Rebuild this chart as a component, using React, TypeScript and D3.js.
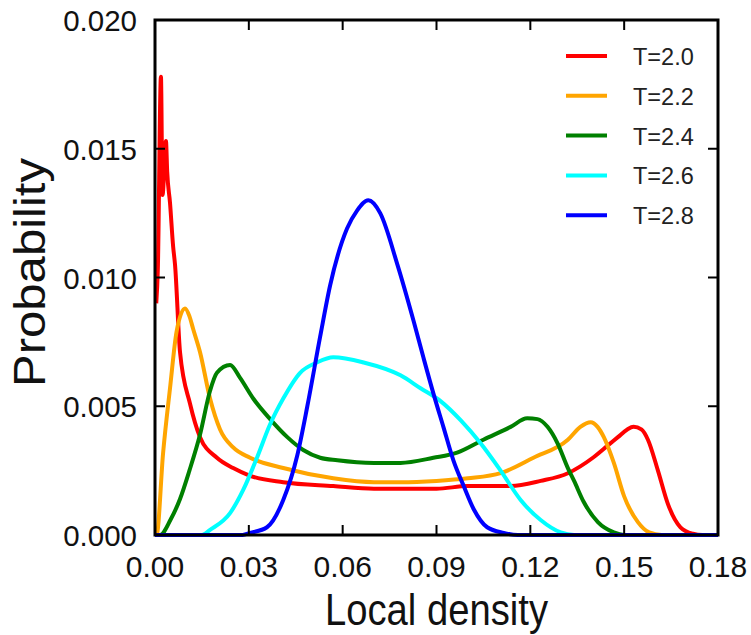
import React from "react";
import * as d3 from "d3";

type Pt = [number, number];

const seriesNames = ["T=2.0", "T=2.2", "T=2.4", "T=2.6", "T=2.8"];
const seriesColors = ["#ff0000", "#ffa500", "#008000", "#00ffff", "#0000ff"];

const red: Pt[] = [
  [0.0004, 0.009], [0.0009, 0.0103], [0.0019, 0.0178], [0.0024, 0.0132],
  [0.0035, 0.0153], [0.0039, 0.0141], [0.0048, 0.0129], [0.0058, 0.0112],
  [0.0064, 0.0105], [0.008, 0.0071], [0.0112, 0.0051], [0.0144, 0.0038],
  [0.0198, 0.003], [0.025, 0.0026], [0.0304, 0.0023], [0.041, 0.00205],
  [0.057, 0.0019], [0.07, 0.0018], [0.0785, 0.0018], [0.09, 0.0018],
  [0.1, 0.0019], [0.1137, 0.0019], [0.1233, 0.0021], [0.132, 0.0024],
  [0.14, 0.003], [0.145, 0.0035], [0.148, 0.0038], [0.151, 0.0041],
  [0.153, 0.0042], [0.1555, 0.0041], [0.1576, 0.0037], [0.1608, 0.0025],
  [0.164, 0.0012], [0.168, 0.0003], [0.172, 0.00005], [0.175, 0], [0.18, 0],
];

const orange: Pt[] = [
  [0, 0], [0.0005, 0], [0.0026, 0.0032], [0.0048, 0.0057], [0.0069, 0.0079],
  [0.0096, 0.0088], [0.011, 0.0085], [0.0122, 0.008], [0.0144, 0.0071],
  [0.0176, 0.0053], [0.0208, 0.0041], [0.025, 0.0034], [0.0304, 0.003],
  [0.041, 0.0026], [0.057, 0.0022], [0.07, 0.00205], [0.0785, 0.00205],
  [0.09, 0.0021], [0.1, 0.0022], [0.1105, 0.0024], [0.121, 0.003],
  [0.132, 0.0037], [0.136, 0.0042], [0.1393, 0.00438], [0.1415, 0.0042],
  [0.1435, 0.0038], [0.1467, 0.0028], [0.15, 0.0015], [0.1544, 0.0005],
  [0.158, 0.0001], [0.162, 0], [0.18, 0],
];

const green: Pt[] = [
  [0, 0], [0.0016, 0], [0.005, 0.0006], [0.008, 0.0014], [0.011, 0.0025],
  [0.0144, 0.0039], [0.0176, 0.0056], [0.0198, 0.0063], [0.024, 0.0066],
  [0.0272, 0.0061], [0.0314, 0.0053], [0.0368, 0.0045], [0.0423, 0.0038],
  [0.0474, 0.0033], [0.0528, 0.003], [0.0583, 0.0029], [0.07, 0.0028],
  [0.0785, 0.0028], [0.089, 0.003], [0.0966, 0.0032], [0.105, 0.0037],
  [0.1137, 0.0042], [0.119, 0.00453], [0.1223, 0.0045], [0.1255, 0.0042],
  [0.1287, 0.00356], [0.132, 0.0026], [0.134, 0.0021], [0.137, 0.0013],
  [0.1416, 0.0005], [0.1467, 0.0001], [0.15, 0], [0.18, 0],
];

const cyan: Pt[] = [
  [0, 0], [0.015, 0], [0.0176, 0.0002], [0.024, 0.00085], [0.0282, 0.00175],
  [0.0326, 0.003], [0.0368, 0.0043], [0.041, 0.0053], [0.0464, 0.0063],
  [0.0518, 0.0067], [0.057, 0.0069], [0.0667, 0.0067], [0.0785, 0.0062],
  [0.0849, 0.0057], [0.0913, 0.0052], [0.0977, 0.00446], [0.1041, 0.00356],
  [0.1105, 0.0025], [0.1169, 0.00136], [0.1233, 0.00058], [0.1297, 0.0001],
  [0.134, 0], [0.18, 0],
];

const blue: Pt[] = [
  [0, 0], [0.028, 0], [0.0304, 0.00008], [0.0358, 0.0003], [0.041, 0.00136],
  [0.0455, 0.0031], [0.0487, 0.005], [0.0528, 0.0077], [0.056, 0.0097],
  [0.0614, 0.0119], [0.0646, 0.0126], [0.0682, 0.013], [0.072, 0.0125],
  [0.0775, 0.0105], [0.0827, 0.0083], [0.0858, 0.0069], [0.089, 0.0055],
  [0.0922, 0.0042], [0.0954, 0.0029], [0.0987, 0.0019], [0.1019, 0.001],
  [0.1062, 0.0003], [0.1115, 0.00008], [0.116, 0], [0.18, 0],
];

const seriesData = [red, orange, green, cyan, blue];

const xTicks = [0, 0.03, 0.06, 0.09, 0.12, 0.15, 0.18];
const yTicks = [0, 0.005, 0.01, 0.015, 0.02];

const W = 751;
const H = 635;
const L = 155;
const R = 718;
const T = 20;
const B = 535;

export default function App() {
  const x = d3.scaleLinear().domain([0, 0.18]).range([L, R]);
  const y = d3.scaleLinear().domain([0, 0.02]).range([B, T]);
  const line = d3
    .line<Pt>()
    .x((d) => x(d[0]))
    .y((d) => y(d[1]))
    .curve(d3.curveMonotoneX);
  const font = "'Liberation Sans', Arial, sans-serif";
  const tickLen = 10;

  return (
    <svg
      width={W}
      height={H}
      style={{ position: "absolute", left: 0, top: 0, background: "#fff" }}
      fontFamily={font}
    >
      <rect x={0} y={0} width={W} height={H} fill="#fff" />
      {seriesData.map((s, i) => (
        <path
          key={i}
          d={line(s) || ""}
          fill="none"
          stroke={seriesColors[i]}
          strokeWidth={4}
          strokeLinejoin="round"
        />
      ))}
      <rect x={L} y={T} width={R - L} height={B - T} fill="none" stroke="#000" strokeWidth={3} />
      {xTicks.map((t, i) => (
        <g key={"x" + i}>
          <line x1={x(t)} x2={x(t)} y1={B} y2={B - tickLen} stroke="#000" strokeWidth={2} />
          <line x1={x(t)} x2={x(t)} y1={T} y2={T + tickLen} stroke="#000" strokeWidth={2} />
          <text x={x(t)} y={B + 42} textAnchor="middle" fontSize={30} fill="#111">
            {t.toFixed(2)}
          </text>
        </g>
      ))}
      {yTicks.map((t, i) => (
        <g key={"y" + i}>
          <line x1={L} x2={L + tickLen} y1={y(t)} y2={y(t)} stroke="#000" strokeWidth={2} />
          <line x1={R} x2={R - tickLen} y1={y(t)} y2={y(t)} stroke="#000" strokeWidth={2} />
          <text x={137} y={y(t) + 11} textAnchor="end" fontSize={29.5} fill="#111">
            {t.toFixed(3)}
          </text>
        </g>
      ))}
      <text
        x={(L + R) / 2}
        y={625}
        textAnchor="middle"
        fontSize={44}
        textLength={223}
        lengthAdjust="spacingAndGlyphs"
        fill="#111"
      >
        Local density
      </text>
      <text
        transform={`translate(45, ${(158 + 387) / 2}) rotate(-90)`}
        textAnchor="middle"
        fontSize={44}
        textLength={229}
        lengthAdjust="spacingAndGlyphs"
        fill="#111"
      >
        Probability
      </text>
      {seriesNames.map((n, i) => {
        const ly = 56 + i * 39.8;
        return (
          <g key={"l" + i}>
            <line x1={566} x2={607} y1={ly} y2={ly} stroke={seriesColors[i]} strokeWidth={4} />
            <text x={633} y={ly + 9} fontSize={23.5} fill="#222">
              {n}
            </text>
          </g>
        );
      })}
    </svg>
  );
}
